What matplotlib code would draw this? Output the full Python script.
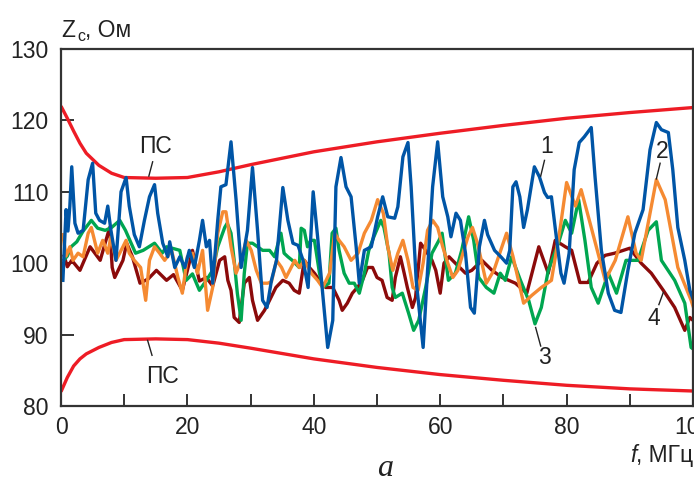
import matplotlib
matplotlib.use("Agg")
import matplotlib.pyplot as plt
from matplotlib.ticker import MultipleLocator

plt.rcParams['font.family'] = ['Liberation Sans', 'DejaVu Sans']

# envelope (ПС)
env_x = [0, 1, 2, 3, 4, 6, 8, 10, 15, 20, 25, 30, 40, 50, 60, 70, 80, 90, 100]
env_up = [122, 120.3, 118.5, 116.8, 115.4, 113.7, 112.6, 112.0, 111.9, 112.0, 112.8, 113.8,
          115.6, 117.0, 118.2, 119.3, 120.3, 121.1, 121.8]
env_lo = [82, 84.0, 85.6, 86.6, 87.3, 88.2, 88.9, 89.3, 89.4, 89.3, 88.8, 88.1,
          86.6, 85.4, 84.4, 83.6, 82.9, 82.4, 82.1]

# curve 1 (blue)
x1 = [0.3, 0.8, 1.1, 1.4, 1.7, 2.2, 2.7, 3.5, 4.3, 5.0, 5.5, 6.1, 6.9, 7.4, 7.9, 8.7, 9.5,
      10.3, 10.8, 11.6, 12.4, 13.2, 14.0, 14.8, 15.3, 16.1, 16.9, 17.2, 18.0, 18.8, 19.6,
      20.3, 21.1, 21.9, 22.4, 23.0, 23.5, 24.0, 24.8, 25.3, 26.1, 26.9, 27.7, 28.5, 29.5,
      30.3, 31.1, 31.9, 32.6, 33.3, 34.1, 35.1, 35.9, 36.7, 37.5, 38.3, 39.1, 39.9, 40.6,
      41.4, 42.2, 43.0, 43.5, 44.3, 45.1, 45.9, 46.7, 47.2, 48.0, 49.1, 50.1, 50.9, 51.7,
      52.8, 53.3, 54.1, 54.9, 55.4, 56.2, 57.3, 58.0, 58.8, 59.6, 60.4, 61.2, 61.7, 62.5,
      63.2, 64.0, 64.8, 65.4, 66.2, 67.0, 67.5, 68.6, 69.7, 70.5, 71.0, 71.5, 72.0, 72.6,
      73.2, 73.8, 74.9, 75.7, 76.5, 77.0, 77.6, 78.3, 79.1, 79.6, 80.4, 81.2, 82.0, 82.8,
      83.9, 84.5, 85.5, 86.6, 87.6, 88.6, 89.7, 90.8, 92.1, 93.2, 94.2, 95.0, 96.1, 96.8,
      97.6, 98.7, 99.5, 100]
y1 = [97.6, 107.5, 104.5, 108, 113.5, 105.6, 104.2, 104.6, 111.7, 114, 107, 106, 105.6, 108,
      104.6, 100.4, 110, 112, 108, 104, 102.3, 106, 109.3, 111, 107, 102.8, 100.9, 103,
      99.4, 100.9, 99.4, 101.8, 99.4, 103.2, 106, 102.3, 103.2, 97.2, 106, 110.7, 111, 117,
      108.9, 99.4, 104.6, 113.4, 104.6, 94.8, 93.8, 97.6, 100.4, 110.6, 106, 102.8, 102.5,
      100.4, 96.6, 110, 103.7, 95.8, 88.2, 92, 110.7, 114.8, 110.7, 109.3, 102.3, 97.2,
      101.8, 102.3, 106.5, 109.3, 106.5, 106.3, 107.9, 114.9, 116.9, 110.7, 97.6, 88.2, 99,
      110.7, 117, 109.3, 106.5, 103.7, 107, 106, 101.4, 93.8, 93, 102.3, 106, 104, 101.8,
      100.8, 100, 101.8, 110.7, 111.4, 109.3, 105, 107.5, 113.5, 112.1, 109.9, 109.2, 109.3,
      104.2, 98.6, 97.2, 101.4, 113.1, 116.9, 117.7, 119, 112.1, 101.8, 95.8, 93.4, 93.1, 99,
      104.2, 107.5, 115.9, 119.7, 118.7, 118.3, 113.1, 105, 100.4, 96.2, 95]

# curve 2 (orange)
x2 = [0.3, 0.8, 1.4, 1.9, 2.7, 3.5, 4.3, 4.8, 5.3, 5.8, 6.6, 7.4, 7.9, 8.7, 9.8, 10.3, 10.8,
      11.6, 12.6, 13.4, 14.0, 14.8, 15.6, 16.4, 17.5, 18.5, 19.2, 20.0, 20.8, 21.6, 22.4,
      23.2, 24.0, 24.8, 25.6, 26.1, 26.9, 27.7, 28.5, 29.3, 30.1, 30.9, 31.7, 32.7, 33.3,
      34.1, 34.9, 35.6, 37.0, 37.7, 38.5, 39.6, 40.6, 41.4, 42.5, 43.3, 44.0, 44.8, 45.9,
      47.0, 48.0, 49.1, 50.1, 51.0, 51.7, 52.5, 53.3, 54.1, 54.9, 55.7, 56.5, 57.3, 58.0,
      58.8, 59.6, 60.4, 61.2, 62.0, 62.8, 63.6, 64.4, 65.1, 65.9, 67.3, 68.5, 70.5, 71.5,
      73.2, 74.5, 76.0, 77.6, 79.0, 80.0, 81.4, 82.3, 83.9, 86.1, 87.7, 89.7, 91.0, 91.8,
      94.2, 95.6, 97.6, 99.7, 100]
y2 = [104, 101, 102.3, 100.4, 101.4, 100.9, 104.2, 105, 103.2, 101.4, 103.2, 101.4, 103.7,
      100.4, 102.3, 103.2, 101.4, 100.4, 99.4, 94.8, 100.4, 102.3, 101.4, 100.4, 101.8, 98,
      95.8, 100.9, 101.4, 98.6, 101.8, 93.4, 96.6, 104.2, 107.2, 107.2, 102.3, 98.6, 100.4,
      103.2, 101.8, 99, 97.2, 97.2, 97.4, 100.4, 99.4, 98, 100.4, 99.4, 100.4, 98.6, 97.6,
      96.6, 98.6, 104.2, 103.2, 102.3, 100.4, 101.4, 104.2, 106, 108.9, 107, 102.3, 99,
      101.4, 103.2, 100.4, 96.6, 96.2, 100, 104.6, 106, 105, 102.3, 100, 98, 99, 101.4,
      103.7, 105, 102.8, 97.2, 99, 104.2, 101, 94.4, 95.5, 96.6, 97.6, 105, 111.3, 108,
      110.3, 105, 97.6, 100.4, 106.5, 101.4, 100.4, 111.7, 108.9, 99.4, 94.8, 94]

# curve 3 (green)
x3 = [0.5, 1.0, 1.6, 2.5, 3.5, 4.8, 5.8, 7.0, 8.0, 9.3, 10.2, 10.9, 11.8, 13.0, 14.8, 16.0,
      16.7, 18.0, 18.8, 19.8, 20.8, 21.9, 23.0, 24.0, 24.8, 25.9, 26.3, 26.9, 27.4, 27.9,
      28.5, 29.0, 29.5, 30.3, 31.1, 31.9, 33.0, 33.8, 34.2, 34.8, 35.3, 35.9, 36.6, 37.7,
      38.0, 38.5, 39.0, 39.5, 40.1, 40.9, 41.4, 42.4, 42.9, 43.5, 44.0, 44.8, 45.6, 46.4,
      47.2, 48.0, 48.7, 49.5, 50.6, 51.1, 51.9, 52.4, 52.9, 54.0, 55.0, 55.8, 56.6, 57.7,
      58.7, 59.8, 60.3, 61.3, 62.4, 63.4, 64.5, 65.3, 66.1, 67.3, 68.5, 69.5, 70.3, 71.3,
      72.7, 74.0, 75.0, 76.0, 77.1, 78.7, 79.8, 80.8, 81.9, 82.9, 83.9, 85.0, 86.6, 87.9,
      89.4, 91.3, 92.9, 94.2, 95.0, 97.1, 98.7, 99.7, 100]
y3 = [100.5, 101, 102.3, 103, 104.5, 106, 104.9, 104.6, 105, 106, 104.6, 103.2, 101.4, 101.8,
      102.8, 101.4, 102.3, 102, 101.8, 97.6, 98.5, 96.2, 97.6, 99, 102.3, 105, 105.6, 104.2,
      100.4, 95.8, 92, 98.6, 102.8, 102.8, 102.3, 101.8, 101.8, 100.9, 102.3, 104.2, 101.4,
      100.9, 100.4, 99.4, 104.9, 104.6, 102.3, 103.2, 103.2, 98.6, 96.6, 97.2, 104.2, 104.9,
      101.8, 98.6, 97.2, 97.2, 95.8, 98.6, 101.8, 103.7, 106, 105, 101.4, 96.6, 95.2, 95.8,
      93, 90.6, 92, 96.6, 101.4, 103.2, 104.2, 97.6, 98.6, 101.8, 106.5, 103.2, 98, 96.6,
      95.8, 98.6, 97.6, 100.9, 97.6, 94.8, 91.5, 93.8, 99, 102.8, 106, 104.2, 108.9, 103.2,
      96.6, 94.4, 98.6, 95.8, 100.4, 100.4, 104.6, 105.8, 100.4, 97.6, 94.4, 88.2, 88]

# curve 4 (dark red)
x4 = [0.5, 1.0, 1.7, 3.0, 4.6, 6.2, 7.7, 8.1, 8.5, 9.8, 10.4, 11.3, 12.5, 13.8, 15.1, 16.7,
      17.8, 19.2, 20.8, 21.9, 23.0, 24.0, 25.1, 25.9, 26.4, 26.9, 27.4, 28.2, 29.0, 29.8,
      30.3, 31.1, 32.2, 33.0, 34.0, 35.1, 36.1, 36.9, 37.7, 38.5, 39.3, 40.1, 40.9, 41.9,
      43.0, 44.0, 44.5, 45.3, 46.1, 46.9, 47.7, 48.5, 49.3, 50.0, 50.8, 51.6, 52.4, 52.9,
      53.7, 54.3, 54.8, 55.6, 56.1, 56.9, 57.7, 58.7, 59.3, 60.0, 60.6, 61.4, 62.4, 64.0,
      65.0, 66.6, 68.2, 69.8, 71.9, 73.7, 75.6, 77.1, 78.2, 79.8, 80.8, 82.1, 83.4, 84.8,
      86.1, 87.6, 90.0, 91.8, 93.4, 95.3, 97.1, 98.7, 99.5, 100]
y4 = [101, 99.5, 100.4, 99, 102.3, 100.4, 105, 99.4, 98, 100.4, 102.8, 100.9, 97.2, 97.8, 99,
      97.6, 98.4, 96.2, 101.8, 97.5, 98, 96.8, 100.4, 100.9, 97.6, 96.2, 92.4, 91.7, 97.2, 98,
      94.8, 92, 93.4, 94.8, 96.6, 97.6, 97.2, 96.2, 95.8, 100.4, 99.4, 98.6, 97.6, 96.6, 96.6,
      94.8, 93.4, 94.4, 95.8, 96.6, 97.6, 99.4, 99.4, 98, 97.6, 95.2, 94.8, 98, 100.9, 98.6,
      96.6, 93.8, 95.2, 102.8, 101.8, 100.4, 99, 95.8, 100, 100.9, 100, 98.6, 99, 100.4, 99,
      98, 97.2, 95.8, 102.3, 98.6, 103.2, 102.3, 101.8, 97.3, 97.3, 100, 101.1, 101.4, 102.1,
      100, 98.6, 96.2, 93.8, 90.6, 92.4, 92]

fig = plt.figure(figsize=(6.94, 4.82), dpi=100)
ax = fig.add_axes([61 / 694, 1 - 406 / 482, 632 / 694, 357 / 482])

lw = 2.4
ax.plot(env_x, env_up, color='#ee1c25', lw=lw, solid_capstyle='butt')
ax.plot(env_x, env_lo, color='#ee1c25', lw=lw, solid_capstyle='butt')
ax.plot(x4, y4, color='#8b0a0a', lw=lw)
ax.plot(x3, y3, color='#00a650', lw=lw)
ax.plot(x2, y2, color='#f58a32', lw=lw)
ax.plot(x1, y1, color='#0055a6', lw=lw)

ax.set_xlim(0, 100)
ax.set_ylim(80, 130)
ax.xaxis.set_major_locator(MultipleLocator(20))
ax.xaxis.set_minor_locator(MultipleLocator(10))
ax.yaxis.set_major_locator(MultipleLocator(10))
ax.tick_params(which='both', direction='in', length=9, width=1.4, color='#333333',
               labelsize=16.5, labelcolor='#222222')
ax.tick_params(axis='x', pad=7)
ax.tick_params(axis='y', pad=9)
for s in ax.spines.values():
    s.set_linewidth(1.6)
    s.set_color('#333333')

# labels on the curves
fs = 16.5
tc = '#222222'
ax.text(15.0, 116.3, 'ПС', fontsize=fs, color=tc, ha='center', va='center')
ax.plot([14.5, 13.9], [114.2, 112.2], color=tc, lw=1)
ax.text(16.0, 84.2, 'ПС', fontsize=fs, color=tc, ha='center', va='center')
ax.plot([13.7, 14.4], [89.2, 87.1], color=tc, lw=1)
ax.text(76.9, 116.3, '1', fontsize=fs, color=tc, ha='center', va='center')
ax.plot([76.5, 75.9], [114.4, 112.2], color=tc, lw=1)
ax.text(95.1, 115.6, '2', fontsize=fs, color=tc, ha='center', va='center')
ax.plot([94.8, 94.2], [114.0, 111.8], color=tc, lw=1)
ax.text(76.5, 86.8, '3', fontsize=fs, color=tc, ha='center', va='center')
ax.plot([75.1, 75.9], [91.0, 88.4], color=tc, lw=1)
ax.text(93.8, 92.2, '4', fontsize=fs, color=tc, ha='center', va='center')
ax.plot([95.3, 94.6], [95.9, 94.2], color=tc, lw=1)

# axis titles
fig.text(61 / 694, 1 - 37 / 482, 'Z', fontsize=fs, color=tc, ha='left', va='baseline')
fig.text(77 / 694, 1 - 41 / 482, 'с', fontsize=11.5, color=tc, ha='left', va='baseline')
fig.text(85 / 694, 1 - 37 / 482, ', Ом', fontsize=fs, color=tc, ha='left', va='baseline')
fig.text(693 / 694, 1 - 462 / 482, ', МГц', fontsize=fs, color=tc, ha='right', va='baseline')
fig.text(637 / 694, 1 - 462 / 482, 'f', fontsize=fs, color=tc, ha='right', va='baseline',
         style='italic')
fig.text(385 / 694, 1 - 476 / 482, 'a', fontsize=23, color=tc, ha='center', va='baseline',
         family='Liberation Serif', style='italic')

fig.savefig('out.png', dpi=100)
